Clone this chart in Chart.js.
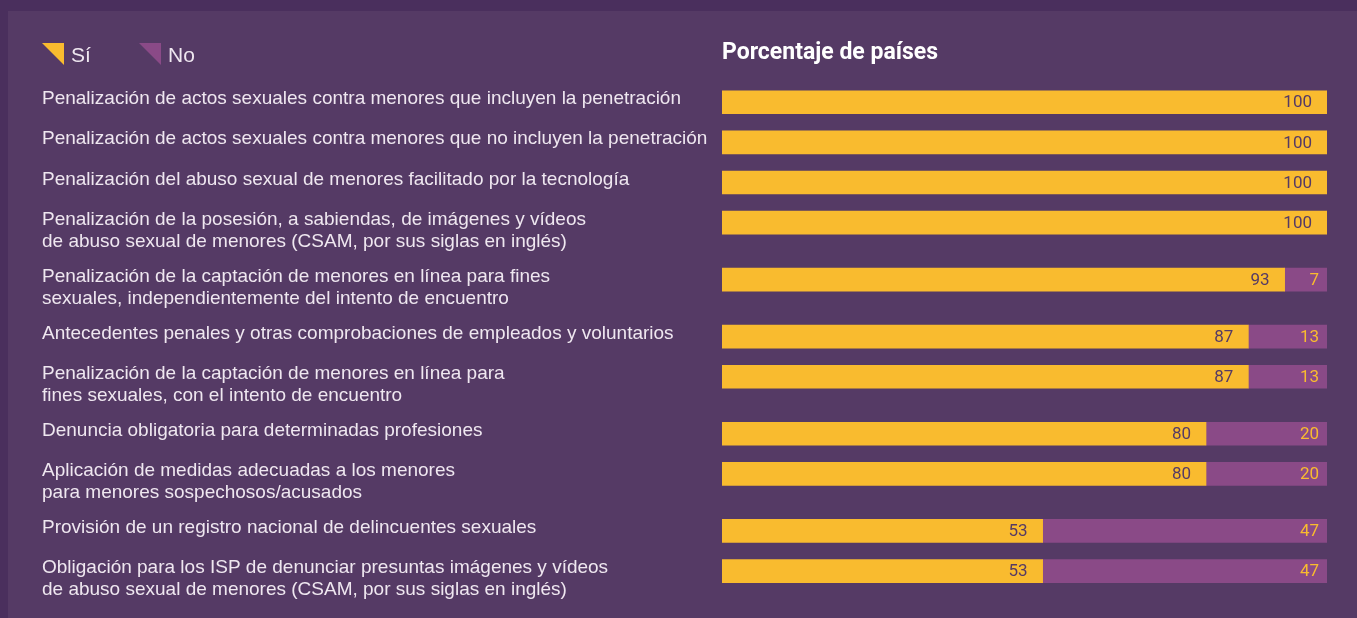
<!DOCTYPE html>
<html><head><meta charset="utf-8">
<script src="https://cdn.jsdelivr.net/npm/chart.js@4.4.0/dist/chart.umd.min.js"></script>
<style>
html,body{margin:0;padding:0;background:#4a2f5d;overflow:hidden;}
canvas{display:block;}
</style></head><body>
<canvas id="c" width="1357" height="618"></canvas>
<script>
const categories = [
 ["Penalización de actos sexuales contra menores que incluyen la penetración"],
 ["Penalización de actos sexuales contra menores que no incluyen la penetración"],
 ["Penalización del abuso sexual de menores facilitado por la tecnología"],
 ["Penalización de la posesión, a sabiendas, de imágenes y vídeos","de abuso sexual de menores (CSAM, por sus siglas en inglés)"],
 ["Penalización de la captación de menores en línea para fines","sexuales, independientemente del intento de encuentro"],
 ["Antecedentes penales y otras comprobaciones de empleados y voluntarios"],
 ["Penalización de la captación de menores en línea para","fines sexuales, con el intento de encuentro"],
 ["Denuncia obligatoria para determinadas profesiones"],
 ["Aplicación de medidas adecuadas a los menores","para menores sospechosos/acusados"],
 ["Provisión de un registro nacional de delincuentes sexuales"],
 ["Obligación para los ISP de denunciar presuntas imágenes y vídeos","de abuso sexual de menores (CSAM, por sus siglas en inglés)"]
];
const siValues = [100,100,100,100,93,87,87,80,80,53,53];
const noValues = [0,0,0,0,7,13,13,20,20,47,47];
const seriesNames = ["Sí","No"];
const axisTitle = "Porcentaje de países";

const YELLOW = "#f9bb2f", PURPLE = "#8a4a87", PANEL = "#553a65", OUTER = "#4a2f5d", TEXT = "#efe7f0";
const EXTRA_PER_LINE = 0.42;

// row positions derived from label line counts
const rowPos = [];
categories.forEach((lab, i) => {
  rowPos.push(i === 0 ? 0 : rowPos[i-1] + 1 + EXTRA_PER_LINE * (categories[i-1].length - 1));
});

const bgPlugin = {
  id: 'bg',
  beforeDraw(chart) {
    const ctx = chart.ctx;
    ctx.save();
    ctx.fillStyle = OUTER; ctx.fillRect(0, 0, chart.width, chart.height);
    ctx.fillStyle = PANEL; ctx.fillRect(8, 11, chart.width - 8, chart.height - 11);
    ctx.restore();
  }
};

const textPlugin = {
  id: 'texts',
  afterDatasetsDraw(chart) {
    const ctx = chart.ctx, y = chart.scales.y, area = chart.chartArea;
    ctx.save();
    // category labels
    ctx.fillStyle = TEXT;
    ctx.font = '19px "Liberation Sans", Arial, sans-serif';
    ctx.textAlign = 'left'; ctx.textBaseline = 'alphabetic';
    categories.forEach((lines, i) => {
      const py = y.getPixelForValue(rowPos[i]);
      lines.forEach((ln, k) => ctx.fillText(ln, 42, py + 2 + k * 22));
    });
    // title
    ctx.fillStyle = '#ffffff';
    ctx.font = 'bold 23px Roboto, sans-serif';
    ctx.fillText(axisTitle, area.left, 59);
    // legend
    const legendColors = [YELLOW, PURPLE];
    let lx = 42;
    ctx.font = '21px "Liberation Sans", Arial, sans-serif';
    seriesNames.forEach((name, i) => {
      ctx.fillStyle = legendColors[i];
      ctx.beginPath();
      ctx.moveTo(lx, 43); ctx.lineTo(lx + 22, 43); ctx.lineTo(lx + 22, 65); ctx.closePath();
      ctx.fill();
      ctx.fillStyle = TEXT;
      ctx.fillText(name, lx + 29, 62);
      lx += 97;
    });
    // value labels
    ctx.font = '17px Roboto, sans-serif';
    ctx.textAlign = 'right'; ctx.textBaseline = 'middle';
    chart.data.datasets.forEach((ds, di) => {
      const meta = chart.getDatasetMeta(di);
      meta.data.forEach((el, j) => {
        const v = ds.data[j].x;
        if (!v) return;
        ctx.fillStyle = di === 0 ? PANEL : YELLOW;
        ctx.fillText(String(v), el.x - (di === 0 ? 15 : 8), el.y + 1);
      });
    });
    ctx.restore();
  }
};

function build() {
  new Chart(document.getElementById('c'), {
    type: 'bar',
    data: {
      datasets: [
        { label: seriesNames[0], data: siValues.map((v, i) => ({x: v, y: rowPos[i]})), backgroundColor: YELLOW, borderWidth: 0, barThickness: 23 },
        { label: seriesNames[1], data: noValues.map((v, i) => ({x: v, y: rowPos[i]})), backgroundColor: PURPLE, borderWidth: 0, barThickness: 23 }
      ]
    },
    options: {
      responsive: false, animation: false, devicePixelRatio: 1,
      indexAxis: 'y',
      layout: { padding: { left: 722, right: 30, top: 42, bottom: 14 } },
      scales: {
        x: { type: 'linear', min: 0, max: 100, stacked: true, display: false, offset: false },
        y: { type: 'linear', min: -1.5, max: 12.5, reverse: true, stacked: true, display: false, offset: false }
      },
      plugins: { legend: { display: false }, tooltip: { enabled: false } }
    },
    plugins: [bgPlugin, textPlugin]
  });
}
Promise.all([
  document.fonts.load('17px Roboto'), document.fonts.load('bold 23px Roboto'),
  document.fonts.load('19px "Liberation Sans"')
]).then(build, build);
</script>
</body></html>
